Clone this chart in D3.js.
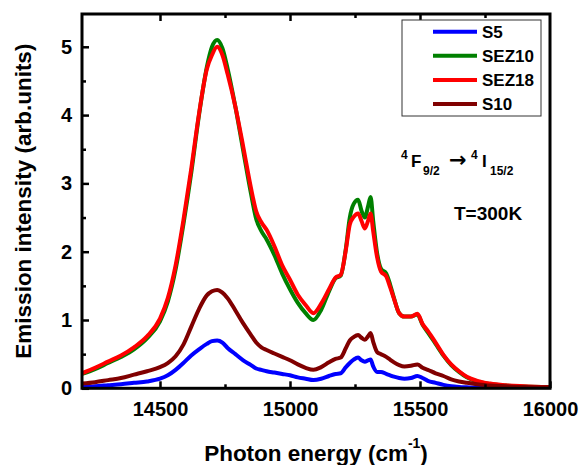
<!DOCTYPE html>
<html>
<head>
<meta charset="utf-8">
<script src="https://cdn.jsdelivr.net/npm/d3@7"></script>
<style>
  html, body { margin: 0; padding: 0; background: #fff; }
  svg { display: block; font-family: Arial, "Liberation Sans", sans-serif; font-weight: bold; }
</style>
</head>
<body>
<svg id="chart" width="582" height="465"></svg>
<script>
// ---- data ----
const energy = [14200,14250,14300,14350,14400,14450,14500,14530,14560,14590,14620,14650,14680,14700,14720,14740,14760,14790,14820,14850,14870,14890,14910,14940,14970,15000,15030,15060,15090,15120,15150,15175,15195,15215,15230,15245,15262,15275,15288,15300,15310,15320,15335,15350,15370,15385,15400,15420,15440,15465,15490,15510,15530,15560,15590,15620,15650,15680,15720,15770,15830,15900,16000];

const S5 = [0.02,0.03,0.045,0.06,0.08,0.10,0.14,0.19,0.27,0.37,0.48,0.57,0.65,0.69,0.70,0.67,0.59,0.50,0.41,0.34,0.29,0.27,0.25,0.23,0.21,0.19,0.16,0.14,0.12,0.14,0.18,0.21,0.22,0.31,0.37,0.42,0.45,0.41,0.39,0.41,0.42,0.32,0.24,0.24,0.21,0.19,0.17,0.15,0.14,0.15,0.18,0.15,0.11,0.08,0.05,0.03,0.02,0.015,0.01,0.01,0.01,0.01,0.01];

const SEZ10 = [0.21,0.28,0.37,0.46,0.57,0.73,0.98,1.27,1.74,2.40,3.15,4.00,4.70,5.00,5.10,4.98,4.68,4.12,3.48,2.85,2.48,2.30,2.18,1.95,1.68,1.45,1.25,1.10,1.00,1.15,1.42,1.61,1.65,2.05,2.50,2.70,2.76,2.60,2.50,2.66,2.80,2.45,1.98,1.75,1.68,1.52,1.32,1.10,1.05,1.05,1.08,0.93,0.82,0.65,0.48,0.34,0.24,0.16,0.10,0.06,0.04,0.025,0.015];

const SEZ18 = [0.22,0.30,0.39,0.48,0.60,0.76,1.02,1.32,1.80,2.46,3.21,4.02,4.67,4.88,5.00,4.88,4.60,4.12,3.54,2.93,2.59,2.43,2.32,2.08,1.80,1.59,1.37,1.22,1.10,1.24,1.45,1.62,1.66,2.03,2.40,2.51,2.56,2.45,2.34,2.45,2.56,2.30,1.92,1.71,1.64,1.48,1.31,1.10,1.05,1.05,1.09,0.94,0.84,0.67,0.49,0.35,0.25,0.17,0.11,0.07,0.045,0.03,0.015];

const S10 = [0.07,0.09,0.12,0.15,0.20,0.25,0.31,0.37,0.47,0.64,0.90,1.16,1.36,1.42,1.44,1.40,1.32,1.14,0.95,0.78,0.67,0.60,0.56,0.51,0.46,0.41,0.35,0.30,0.27,0.31,0.38,0.43,0.45,0.59,0.70,0.75,0.78,0.74,0.71,0.76,0.81,0.68,0.53,0.50,0.46,0.42,0.38,0.34,0.32,0.33,0.35,0.30,0.27,0.22,0.18,0.13,0.10,0.08,0.06,0.04,0.03,0.02,0.015];

const seriesNames = ["S5", "SEZ10", "SEZ18", "S10"];
const seriesColors = ["#0000ff", "#008000", "#ff0000", "#800000"];
const seriesValues = [S5, SEZ10, SEZ18, S10];

const xMajorTicks = [14500, 15000, 15500, 16000];
const xMinorTicks = [14750, 15250, 15750];
const yMajorTicks = [0, 1, 2, 3, 4, 5];
const yMinorTicks = [0.5, 1.5, 2.5, 3.5, 4.5];

const xTitle = "Photon energy (cm";
const yTitle = "Emission intensity (arb.units)";
const tempLabel = "T=300K";

// ---- layout ----
const svg = d3.select("#chart");
const L = 82, R = 550, T = 14, B = 388.3;
const x = d3.scaleLinear().domain([14200, 16000]).range([L, R]);
const y = d3.scaleLinear().domain([0, 5.48]).range([B, T]);

// clip
svg.append("clipPath").attr("id", "clip")
  .append("rect").attr("x", L).attr("y", T).attr("width", R - L).attr("height", B - T);

// curves
const line = d3.line()
  .x(d => x(d[0])).y(d => y(d[1]))
  .curve(d3.curveMonotoneX);

const gLines = svg.append("g").attr("clip-path", "url(#clip)");
seriesValues.forEach((vals, i) => {
  gLines.append("path")
    .datum(energy.map((e, j) => [e, vals[j]]))
    .attr("d", line)
    .attr("fill", "none")
    .attr("stroke", seriesColors[i])
    .attr("stroke-width", 4)
    .attr("stroke-linejoin", "round")
    .attr("stroke-linecap", "round");
});

// axes (ticks inward)
const tickStyle = g => {
  g.select(".domain").remove();
  g.selectAll(".tick line").attr("stroke", "#000").attr("stroke-width", 2.5);
};

// bottom major
svg.append("g").attr("transform", `translate(0,${B})`)
  .call(d3.axisBottom(x).tickValues(xMajorTicks).tickSize(-7).tickPadding(14).tickFormat(d3.format("d")))
  .call(tickStyle)
  .call(g => g.selectAll(".tick text").attr("font-size", 20).attr("font-weight", "bold")
     .attr("font-family", "Arial, 'Liberation Sans', sans-serif").attr("fill", "#000"));
// bottom minor
svg.append("g").attr("transform", `translate(0,${B})`)
  .call(d3.axisBottom(x).tickValues(xMinorTicks).tickSize(-4).tickFormat(""))
  .call(tickStyle);
// top ticks
svg.append("g").attr("transform", `translate(0,${T})`)
  .call(d3.axisTop(x).tickValues(xMajorTicks.filter(v => v < 16000)).tickSize(-7).tickFormat(""))
  .call(tickStyle);
svg.append("g").attr("transform", `translate(0,${T})`)
  .call(d3.axisTop(x).tickValues(xMinorTicks).tickSize(-4).tickFormat(""))
  .call(tickStyle);
// left major
svg.append("g").attr("transform", `translate(${L},0)`)
  .call(d3.axisLeft(y).tickValues(yMajorTicks).tickSize(-7).tickPadding(10).tickFormat(d3.format("d")))
  .call(tickStyle)
  .call(g => g.selectAll(".tick text").attr("font-size", 20).attr("font-weight", "bold")
     .attr("font-family", "Arial, 'Liberation Sans', sans-serif").attr("fill", "#000"));
// left minor
svg.append("g").attr("transform", `translate(${L},0)`)
  .call(d3.axisLeft(y).tickValues(yMinorTicks).tickSize(-4).tickFormat(""))
  .call(tickStyle);

// frame
svg.append("rect")
  .attr("x", L).attr("y", T).attr("width", R - L).attr("height", B - T)
  .attr("fill", "none").attr("stroke", "#000").attr("stroke-width", 3);

// axis titles
const xt = svg.append("text")
  .attr("x", (L + R) / 2).attr("y", 461)
  .attr("text-anchor", "middle")
  .attr("font-size", 22.5).attr("fill", "#000");
xt.append("tspan").text(xTitle);
xt.append("tspan").attr("font-size", 14).attr("dy", -13).text("-1");
xt.append("tspan").attr("dy", 13).text(")");

svg.append("text")
  .attr("transform", `translate(31,${(T + B) / 2}) rotate(-90)`)
  .attr("text-anchor", "middle")
  .attr("font-size", 22.5).attr("fill", "#000")
  .text(yTitle);

// legend
const lg = svg.append("g");
lg.append("rect").attr("x", 402).attr("y", 20).attr("width", 139).attr("height", 96)
  .attr("fill", "#fff").attr("stroke", "#333").attr("stroke-width", 1);
seriesNames.forEach((n, i) => {
  const yy = 31.7 + i * 24.1;
  lg.append("line").attr("x1", 433).attr("x2", 477).attr("y1", yy).attr("y2", yy)
    .attr("stroke", seriesColors[i]).attr("stroke-width", 4);
  lg.append("text").attr("x", 482).attr("y", yy).attr("dy", "0.36em")
    .attr("font-size", 17).attr("fill", "#000").text(n);
});

// transition annotation
const ann = svg.append("g").attr("fill", "#000");
const baseY = 167;
ann.append("text").attr("x", 401).attr("y", baseY - 8).attr("font-size", 12).text("4");
ann.append("text").attr("x", 411).attr("y", baseY).attr("font-size", 17).text("F");
ann.append("text").attr("x", 423).attr("y", baseY + 8).attr("font-size", 12).text("9/2");
ann.append("text").attr("x", 449).attr("y", baseY).attr("font-size", 21)
  .attr("font-family", "'DejaVu Sans', sans-serif").text("\u2192");
ann.append("text").attr("x", 471).attr("y", baseY - 8).attr("font-size", 12).text("4");
ann.append("text").attr("x", 482).attr("y", baseY).attr("font-size", 17).text("I");
ann.append("text").attr("x", 490).attr("y", baseY + 8).attr("font-size", 12).text("15/2");

svg.append("text").attr("x", 454).attr("y", 219.5).attr("font-size", 19).attr("fill", "#000").text(tempLabel);
</script>
</body>
</html>
